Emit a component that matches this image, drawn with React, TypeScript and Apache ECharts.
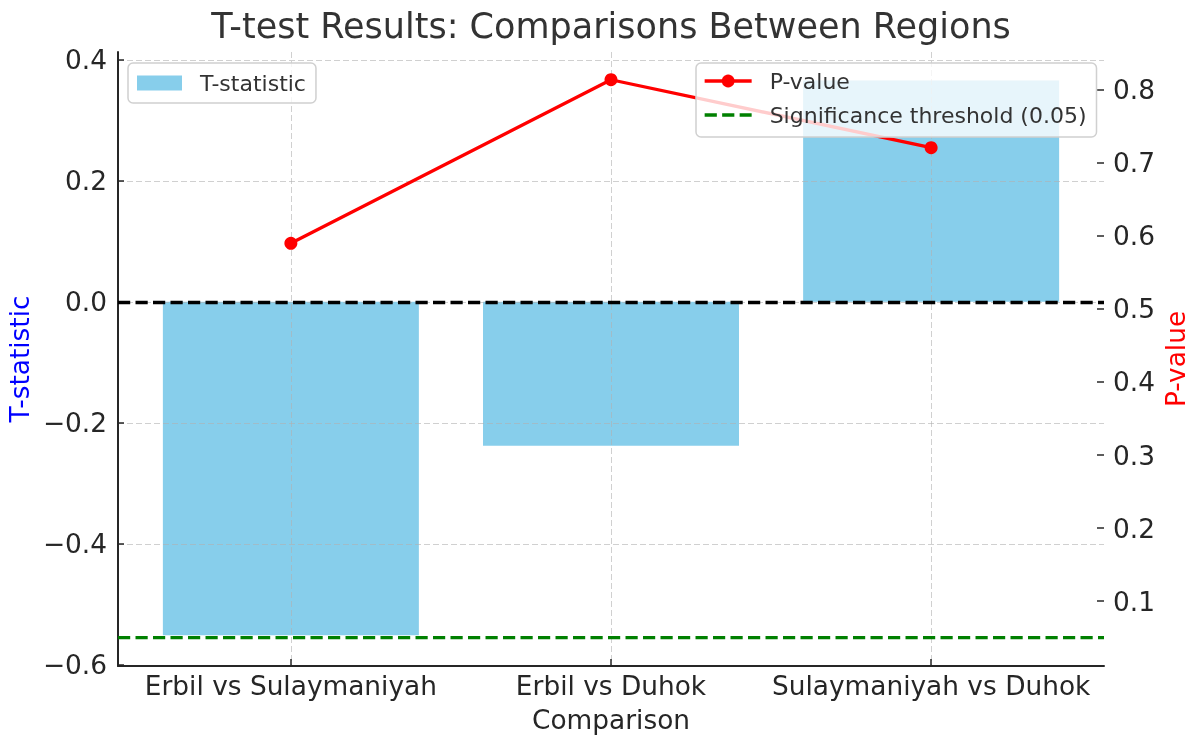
import React, { useEffect, useRef } from "react";
import * as echarts from "echarts";

const categories = ["Erbil vs Sulaymaniyah", "Erbil vs Duhok", "Sulaymaniyah vs Duhok"];
const categoryPositions = [0, 1, 2];
const tStatistics = [-0.551, -0.238, 0.366];
const pValues = [0.59, 0.814, 0.721];
const significanceThreshold = 0.05;
const tTicks = [-0.6, -0.4, -0.2, 0, 0.2, 0.4];
const pTicks = [0.1, 0.2, 0.3, 0.4, 0.5, 0.6, 0.7, 0.8];
const xExtent = [-0.54, 2.54];
const tExtent = [-0.602, 0.413];
const pExtent = [0.011, 0.852];

const FONT = "DejaVu Sans";
const DARK = "#262626";
const GRID = "rgba(176,176,176,0.6)";
const LABEL_SIZE = 26.4;
const LEGEND_SIZE = 22;

export default function App() {
  const ref = useRef<HTMLDivElement>(null);
  useEffect(() => {
    const chart = echarts.init(ref.current!, null, { renderer: "svg" });
    const fmt = (v: number) => {
      const s = Math.abs(v).toFixed(1);
      return v < -1e-9 ? "\u2212" + s : s;
    };
    const legendText = {
      fontSize: LEGEND_SIZE,
      color: "#333333",
      lineHeight: 24,
      padding: [0, 0, 0, 13],
      fontFamily: FONT,
    };
    chart.setOption({
      animation: false,
      textStyle: { fontFamily: FONT },
      title: {
        text: "T-test Results: Comparisons Between Regions",
        left: 611,
        textAlign: "center",
        top: 8,
        padding: 0,
        textStyle: { fontSize: 35, fontWeight: "normal", color: "#333333", fontFamily: FONT },
      },
      grid: { left: 118, right: 88, top: 52, bottom: 71, containLabel: false, outerBoundsMode: "none" },
      legend: [
        {
          data: [{ name: "T-statistic", icon: "rect" }],
          left: 128,
          top: 63,
          orient: "vertical",
          itemWidth: 45,
          itemHeight: 15,
          padding: [8, 10, 8, 9],
          backgroundColor: "rgba(255,255,255,0.8)",
          borderColor: "#d0d0d0",
          borderWidth: 1.5,
          borderRadius: 5,
          selectedMode: false,
          textStyle: legendText,
        },
        {
          data: [
            { name: "P-value", lineStyle: { width: 3.3 } },
            { name: "Significance threshold (0.05)", lineStyle: { width: 3.3 }, itemStyle: { opacity: 0 } },
          ],
          left: 696,
          top: 63,
          orient: "vertical",
          itemWidth: 47,
          itemHeight: 16,
          itemGap: 10,
          padding: [6, 10, 10, 7],
          backgroundColor: "rgba(255,255,255,0.8)",
          borderColor: "#d0d0d0",
          borderWidth: 1.5,
          borderRadius: 5,
          selectedMode: false,
          textStyle: legendText,
        },
      ],
      xAxis: {
        type: "value",
        min: xExtent[0],
        max: xExtent[1],
        z: 1.5,
        name: "Comparison",
        nameLocation: "middle",
        nameGap: 40,
        nameTextStyle: { fontSize: LABEL_SIZE, color: DARK, fontFamily: FONT },
        axisLine: { show: true, onZero: false, lineStyle: { color: DARK, width: 2 } },
        axisTick: { show: true, inside: true, length: 7, customValues: categoryPositions, lineStyle: { color: DARK, width: 1.5 } },
        axisLabel: {
          customValues: categoryPositions,
          formatter: (v: number) => categories[Math.round(v)],
          fontSize: LABEL_SIZE,
          color: DARK,
          margin: 6,
          fontFamily: FONT,
        },
        splitLine: { show: true, lineStyle: { color: GRID, type: [6, 3], width: 1 } },
      },
      yAxis: [
        {
          type: "value",
          position: "left",
          min: tExtent[0],
          max: tExtent[1],
          z: 1.5,
          name: "T-statistic",
          nameLocation: "middle",
          nameRotate: 90,
          nameGap: 84,
          nameTextStyle: { fontSize: LABEL_SIZE, color: "#0000ff", fontFamily: FONT },
          axisLine: { show: true, onZero: false, lineStyle: { color: DARK, width: 2 } },
          axisTick: { show: true, inside: true, length: 6, customValues: tTicks, lineStyle: { color: DARK, width: 1.5 } },
          axisLabel: { customValues: tTicks, formatter: fmt, fontSize: LABEL_SIZE, color: DARK, margin: 11, fontFamily: FONT },
          splitLine: { show: true, lineStyle: { color: GRID, type: [6, 3], width: 1 } },
        },
        {
          type: "value",
          position: "right",
          min: pExtent[0],
          max: pExtent[1],
          z: 1.5,
          name: "P-value",
          nameLocation: "middle",
          nameRotate: 90,
          nameGap: 58,
          nameMoveOverlap: false,
          nameTextStyle: { fontSize: LABEL_SIZE, color: "#ff0000", fontFamily: FONT },
          axisLine: { show: false, onZero: false },
          axisTick: { show: true, inside: true, length: 7, customValues: pTicks, lineStyle: { color: DARK, width: 1.5 } },
          axisLabel: {
            customValues: pTicks,
            formatter: (v: number) => v.toFixed(1),
            fontSize: LABEL_SIZE,
            color: DARK,
            margin: 9,
            fontFamily: FONT,
          },
          splitLine: { show: false },
        },
      ],
      series: [
        {
          name: "T-statistic",
          type: "bar",
          xAxisIndex: 0,
          yAxisIndex: 0,
          z: 1,
          barWidth: 256,
          itemStyle: { color: "#87ceeb" },
          data: categoryPositions.map((x, i) => [x, tStatistics[i]]),
          markLine: {
            silent: true,
            symbol: ["none", "none"],
            label: { show: false },
            lineStyle: { color: "#000000", type: [12.2, 5.3], width: 3.3 },
            data: [{ yAxis: 0 }],
          },
        },
        {
          name: "P-value",
          type: "line",
          xAxisIndex: 0,
          yAxisIndex: 1,
          z: 3,
          symbol: "circle",
          symbolSize: 13,
          itemStyle: { color: "#ff0000" },
          lineStyle: { color: "#ff0000", width: 3.3 },
          data: categoryPositions.map((x, i) => [x, pValues[i]]),
        },
        {
          name: "Significance threshold (0.05)",
          type: "line",
          xAxisIndex: 0,
          yAxisIndex: 1,
          z: 3,
          symbol: "none",
          itemStyle: { color: "#008000" },
          lineStyle: { color: "#008000", width: 3.3, type: [12.2, 5.3] },
          data: [
            [xExtent[0], significanceThreshold],
            [xExtent[1], significanceThreshold],
          ],
        },
      ],
    });
    return () => chart.dispose();
  }, []);
  return <div ref={ref} style={{ position: "fixed", left: 0, top: 0, width: 1192, height: 737 }} />;
}
